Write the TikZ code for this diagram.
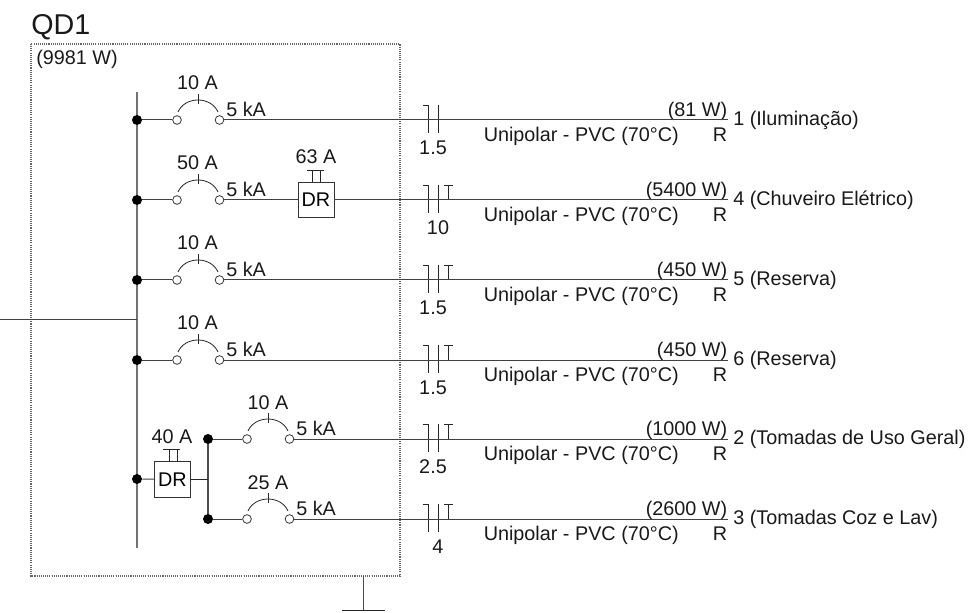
\documentclass[tikz,border=0pt]{standalone}
\usepackage{fontspec}
\setmainfont{Liberation Sans}
\tikzset{
  wire/.style={line width=0.75pt,draw=black!75},
  thin wire/.style={line width=0.7pt,draw=black!85},
  bus/.style={line width=1.1pt,draw=black!55},
  panel/.style={line width=0.8pt,draw=black!60,dash pattern=on 0.8pt off 0.8pt},
  junction/.style={circle,fill=black,draw=none,inner sep=0pt,minimum size=7.5pt},
  term/.style={circle,fill=white,draw=black!80,line width=0.6pt,inner sep=0pt,minimum size=6.5pt},
  lbl/.style={inner sep=0pt,yshift=-1pt,font=\fontsize{14.85pt}{17pt}\selectfont,text=black!90},
  drbox/.style={draw=black!80,line width=0.7pt,fill=white,minimum width=27pt,minimum height=26.5pt,inner sep=0pt,font=\fontsize{14.85pt}{17pt}\selectfont},
  tickline/.style={line width=0.6pt,draw=black!85},
}
\newcommand{\breaker}[3]{% name, left x, y
  \node[term] (#1l) at (#2,#3) {};
  \node[term] (#1r) at (#2+42.5,#3) {};
  \draw[tickline] (#2+1,#3-8) .. controls (#2+8,#3-24) and (#2+34,#3-24) .. (#2+41,#3-8);
  \draw[tickline] (#2+21,#3-26) -- (#2+21,#3-16);
}
\newcommand{\circuit}[7]{% name, y, watts, label, section, section x, neutral
  \coordinate (#1end) at (728,#2);
  \draw[tickline] (423,#2-15) -- (428,#2-15) -- (428,#2+13);
  \draw[tickline] (438,#2-15) -- (438,#2+13);
  \ifnum#7=1 \draw[tickline] (444,#2-15) -- (453,#2-15) (448,#2-15) -- (448,#2); \fi
  \node[lbl,anchor=base east] (#1w) at (727.5,#2-5) {#3};
  \node[lbl,anchor=base west] (#1t) at (483.5,#2+20) {Unipolar - PVC (70°C)};
  \node[lbl,anchor=base east] (#1p) at (727.5,#2+20) {R};
  \node[lbl,anchor=base west] (#1n) at (733,#2+4) {#4};
  \node[lbl,anchor=base] (#1s) at (#6,#2+33) {#5};
}
\begin{document}
\begin{tikzpicture}[x=0.75pt,y=-0.75pt]
\useasboundingbox (0,0) rectangle (972,613);
% panel
\draw[panel] (31,44) rectangle (400,576);
\node[inner sep=0pt,anchor=base west,font=\fontsize{21.5pt}{24pt}\selectfont,text=black!90] (title) at (31,35) {QD1};
\node[lbl,anchor=base west] (total) at (36,63) {(9981 W)};
% ground
\coordinate (gtop) at (363,576);
\coordinate (gbot) at (363,610);
\coordinate (gl) at (342,610);
\coordinate (gr) at (385,610);
\draw[thin wire,draw=black!70] (gtop) -- (gbot);
\draw[thin wire] (gl) -- (gr);
% bus and feed
\coordinate (bustop) at (137,92);
\coordinate (busbot) at (137,548);
\coordinate (feed) at (0,319.5);
\coordinate (feedend) at (137,319.5);
\draw[bus] (bustop) -- (busbot);
\draw[wire] (feed) -- (feedend);
% direct breakers
\foreach \n/\y/\amp in {a/120/10 A,b/200/50 A,c/280/10 A,d/360/10 A}{
  \node[junction] (\n j) at (137,\y) {};
  \breaker{\n}{177}{\y}
  \draw[wire] (\n j) -- (\n l);
  \node[lbl,anchor=base] (\n a) at (197.5,\y-32) {\amp};
  \node[lbl,anchor=base west] (\n k) at (226,\y-5) {5 kA};
}
% second-group breakers
\node[junction] (ej) at (208,439) {};
\node[junction] (fj) at (208,519) {};
\breaker{e}{247}{439}
\breaker{f}{247}{519}
\draw[wire] (ej) -- (el);
\draw[wire] (fj) -- (fl);
\draw[bus,draw=black!70] (ej) -- (fj);
\node[lbl,anchor=base] (ea) at (268,408) {10 A};
\node[lbl,anchor=base] (fa) at (268,488) {25 A};
\node[lbl,anchor=base west] (ek) at (296,434.5) {5 kA};
\node[lbl,anchor=base west] (fk) at (296,514.5) {5 kA};
% DR devices
\node[drbox] (dr1) at (316,200) {DR};
\draw[tickline] (307,170) -- (324,170) (312.5,170) -- (312.5,182) (320,170) -- (320,182);
\node[lbl,anchor=base] (dr1a) at (316,162) {63 A};
\node[drbox] (dr2) at (172.5,479.5) {DR};
\draw[tickline] (163,449) -- (180,449) (169,449) -- (169,462) (177,449) -- (177,462);
\node[lbl,anchor=base] (dr2a) at (172,442) {40 A};
\node[junction] (gj) at (137,479) {};
\coordinate (drtap) at (208,479.5);
\draw[wire] (gj) -- (dr2);
\draw[thin wire] (dr2) -- (drtap);
% circuits
\circuit{a}{120}{(81 W)}{1 (Iluminação)}{1.5}{433}{0}
\circuit{b}{200}{(5400 W)}{4 (Chuveiro Elétrico)}{10}{438}{1}
\circuit{c}{280}{(450 W)}{5 (Reserva)}{1.5}{433}{1}
\circuit{d}{360}{(450 W)}{6 (Reserva)}{1.5}{433}{1}
\circuit{e}{439}{(1000 W)}{2 (Tomadas de Uso Geral)}{2.5}{433}{1}
\circuit{f}{519}{(2600 W)}{3 (Tomadas Coz e Lav)}{4}{438}{1}
\draw[wire] (ar) -- (aend);
\draw[wire] (br) -- (dr1);
\draw[wire] (dr1) -- (bend);
\draw[wire] (cr) -- (cend);
\draw[wire] (dr) -- (dend);
\draw[wire] (er) -- (eend);
\draw[wire] (fr) -- (fend);
\end{tikzpicture}
\end{document}
